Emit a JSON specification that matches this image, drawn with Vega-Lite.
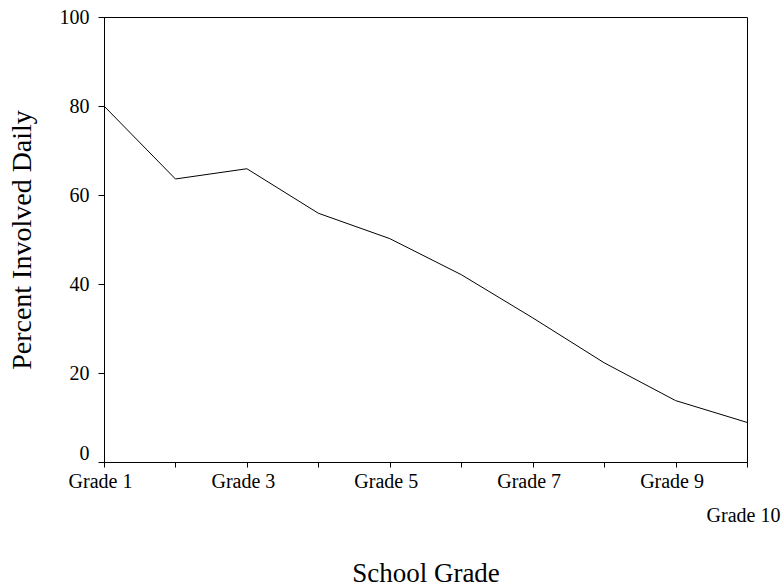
{
  "$schema": "https://vega.github.io/schema/vega-lite/v6.json",
  "autosize": "none",
  "width": 643,
  "height": 445,
  "padding": {"left": 104, "top": 17, "right": 36, "bottom": 126},
  "background": "white",
  "config": {
    "view": {"stroke": "black", "strokeWidth": 1},
    "font": "Liberation Serif",
    "axis": {
      "labelFont": "Liberation Serif",
      "titleFont": "Liberation Serif",
      "labelColor": "black",
      "titleColor": "black",
      "domainColor": "black",
      "tickColor": "black",
      "titleFontWeight": "normal",
      "grid": false
    }
  },
  "data": {
    "values": [
      {"grade": "Grade 1", "pct": 80.0},
      {"grade": "Grade 2", "pct": 63.6},
      {"grade": "Grade 3", "pct": 65.9},
      {"grade": "Grade 4", "pct": 55.9},
      {"grade": "Grade 5", "pct": 50.2},
      {"grade": "Grade 6", "pct": 42.1},
      {"grade": "Grade 7", "pct": 32.4},
      {"grade": "Grade 8", "pct": 22.3},
      {"grade": "Grade 9", "pct": 13.8},
      {"grade": "Grade 10", "pct": 8.9}
    ]
  },
  "mark": {"type": "line", "color": "black", "strokeWidth": 1},
  "encoding": {
    "x": {
      "field": "grade",
      "type": "ordinal",
      "sort": null,
      "scale": {"type": "point", "padding": 0},
      "axis": {
        "title": "School Grade",
        "titleFontSize": 27,
        "titlePadding": 35,
        "labelFontSize": 20,
        "labelAngle": 0,
        "tickSize": 5,
        "labelOffset": -4,
        "labelPadding": {"condition": {"test": "datum.value == 'Grade 10'", "value": 38}, "value": 4},
        "labelExpr": "indexof(['Grade 1','Grade 3','Grade 5','Grade 7','Grade 9','Grade 10'], datum.value) >= 0 ? datum.value : ''",
        "labelOverlap": false
      }
    },
    "y": {
      "field": "pct",
      "type": "quantitative",
      "scale": {"domain": [0, 100], "nice": false},
      "axis": {
        "title": "Percent Involved Daily",
        "titleFontSize": 28,
        "titlePadding": 23,
        "labelFontSize": 20,
        "values": [0, 20, 40, 60, 80, 100],
        "tickSize": 6,
        "labelPadding": 9,
        "labelOffset": {"condition": {"test": "datum.value == 0", "value": -9}, "value": 0}
      }
    }
  }
}
